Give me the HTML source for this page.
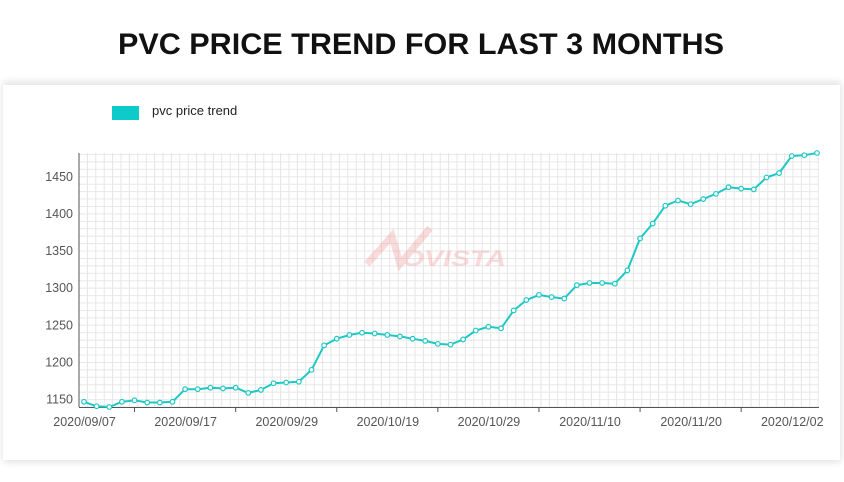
<!DOCTYPE html>
<html><head><meta charset="utf-8"><style>
body{margin:0;width:844px;height:477px;background:#fff;overflow:hidden;font-family:"Liberation Sans",sans-serif}
</style></head><body>
<svg width="844" height="477" xmlns="http://www.w3.org/2000/svg">
<defs><filter id="sh" x="-5%" y="-10%" width="110%" height="120%"><feGaussianBlur stdDeviation="4"/></filter></defs>
<rect x="3" y="82" width="838" height="380" fill="#000" opacity="0.12" filter="url(#sh)"/>
<rect x="3" y="85" width="837" height="375" fill="#fff"/>
<text x="421" y="54" text-anchor="middle" font-size="30" font-weight="bold" fill="#111" textLength="606" lengthAdjust="spacingAndGlyphs">PVC PRICE TREND FOR LAST 3 MONTHS</text>
<rect x="112" y="106" width="27" height="14" fill="#0ccbc8"/>
<text x="152" y="115" font-size="13" fill="#222">pvc price trend</text>
<g id="grid"></g>
<g opacity="0.3">
<path d="M367 264 L392 236 L400 264 L430 228" stroke="#f08a8a" stroke-width="7" fill="none"/>
<text x="402" y="266" font-size="22" font-weight="bold" font-style="italic" fill="#f08a8a" textLength="104" lengthAdjust="spacingAndGlyphs">OVISTA</text>
</g>
<g id="axes"></g>
<g id="series"></g>
</svg>
<script>
const categories=["2020/09/07","2020/09/17","2020/09/29","2020/10/19","2020/10/29","2020/11/10","2020/11/20","2020/12/02"];
const prices=[1147,1141,1140,1147,1149,1146,1146,1147,1164,1164,1166,1165,1166,1159,1163,1172,1173,1174,1190,1223,1232,1237,1240,1239,1237,1235,1232,1229,1225,
1224,1231,1243,1248,1246,1270,1284,1291,1288,1286,1304,1307,1307,1306,1324,1367,1387,1411,1418,1413,1420,1427,1436,1434,1433,1449,1455,1478,1479,1482];
const yTicks=[1150,1200,1250,1300,1350,1400,1450];
const NS="http://www.w3.org/2000/svg";
const x0=79,x1=819,yTop=153,yBot=407,vMin=1140,vMax=1482;
const firstX=84,lastX=817;
const step=(lastX-firstX)/(prices.length-1);
const X=i=>firstX+i*step;
const Y=v=>yBot-(v-vMin)/(vMax-vMin)*(yBot-yTop);
function mk(t,a,p){const e=document.createElementNS(NS,t);for(const k in a)e.setAttribute(k,a[k]);p.appendChild(e);return e;}
const grid=document.getElementById('grid'),axes=document.getElementById('axes'),ser=document.getElementById('series');
for(let v=vMin;v<=vMax;v+=10){const l=mk('line',{x1:x0,x2:x1,y1:Y(v),y2:Y(v),stroke:'#e8e8e8','stroke-width':1},grid);}
for(let x=x0+8.4;x<=x1;x+=8.4){const l=mk('line',{x1:x,x2:x,y1:yTop,y2:yBot,stroke:'#e6e6e6','stroke-width':1},grid);}
const ya=mk('line',{x1:x0,x2:x0,y1:yTop,y2:yBot,stroke:'#555','stroke-width':1},axes);

const xa=mk('line',{x1:x0,x2:x1,y1:yBot+0.5,y2:yBot+0.5,stroke:'#555','stroke-width':1},axes);

yTicks.forEach(v=>{const t=mk('text',{x:x0-6,y:Y(v)+4,'text-anchor':'end','font-size':12.5,fill:'#555'},axes);t.textContent=v;
});
categories.forEach((c,k)=>{const tx=X(k*8)+step*4;
if(k<categories.length-1){const tl=mk('line',{x1:tx,x2:tx,y1:yBot,y2:yBot+5,stroke:'#555'},axes);}
const t=mk('text',{x:tx-50,y:yBot+19,'text-anchor':'middle','font-size':12.5,fill:'#555'},axes);t.textContent=c;
});
let d='';prices.forEach((v,i)=>{d+=(i?'L':'M')+X(i).toFixed(1)+' '+Y(v).toFixed(1)+' ';});
const p=mk('path',{d:d,fill:'none',stroke:'#1ec8c4','stroke-width':2,'stroke-linejoin':'round'},ser);

prices.forEach((v,i)=>{const c=mk('circle',{cx:X(i),cy:Y(v),r:2.3,fill:'#fff',stroke:'#1ec8c4','stroke-width':1.2},ser);
});
</script>
</body></html>
